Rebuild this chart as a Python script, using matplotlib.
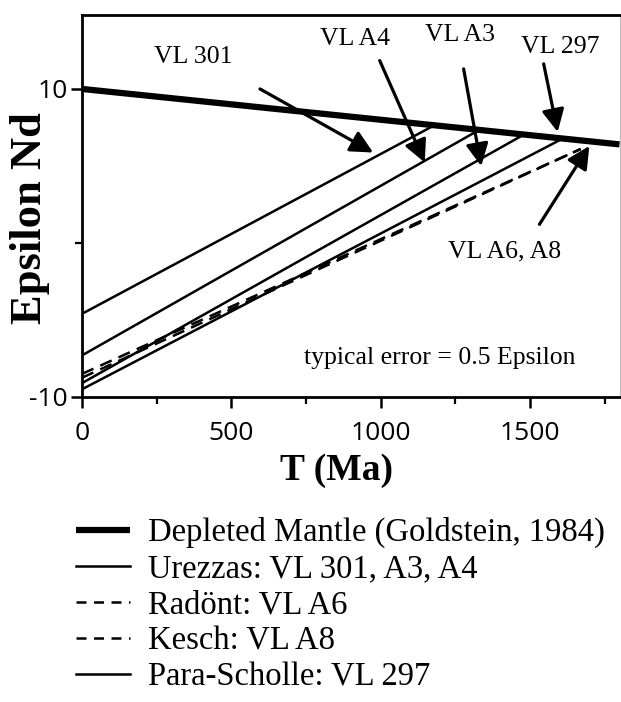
import matplotlib
matplotlib.use("Agg")
import matplotlib.pyplot as plt
from matplotlib.lines import Line2D

# ---------------- data ----------------
# Depleted mantle evolution (Goldstein, 1984)
dm_t = [0, 1800]
dm_eps = [10.0, 6.4]

# Nd evolution lines of samples: start (T=0) and end (model age on DM)
samples = ["VL 301", "VL A4", "VL A3", "VL 297", "VL A6", "VL A8"]
groups = ["Urezzas", "Urezzas", "Urezzas", "Para-Scholle", "Radönt", "Kesch"]
eps_today = [-4.6, -7.3, -9.1, -9.5, -8.5, -8.75]
t_model = [1180, 1330, 1480, 1610, 1670, 1670]
eps_model = [7.64, 7.34, 7.04, 6.78, 6.1, 6.1]
dashed = [False, False, False, False, True, True]

# arrow labels: text position, arrow tail, arrow tip (T in Ma, epsilon)
arrow_labels = ["VL 301", "VL A4", "VL A3", "VL 297", "VL A6, A8"]
label_t = [372, 913, 1265, 1600, 1415]
label_eps = [12.07, 13.26, 13.47, 12.74, -0.53]
tail_t = [596, 997, 1278, 1546, 1532]
tail_eps = [10.0, 11.84, 11.3, 11.63, 1.21]
tip_t = [975, 1148, 1337, 1593, 1699]
tip_eps = [5.87, 5.22, 4.99, 7.21, 6.3]

legend_labels = ["Depleted Mantle (Goldstein, 1984)", "Urezzas: VL 301, A3, A4",
                 "Radönt: VL A6", "Kesch: VL A8", "Para-Scholle: VL 297"]

x_major = [0, 500, 1000, 1500]
x_minor = [250, 750, 1250, 1750]
y_major = [-10, 10]
y_minor = [0]

# ---------------- figure ----------------
W, H = 621, 702
fig = plt.figure(figsize=(W / 100, H / 100), dpi=100)
left, right, top, bottom = 82, 619.5, 15, 397
ax = fig.add_axes([left / W, 1 - bottom / H, (right - left) / W, (bottom - top) / H])

serif = "Liberation Serif"
tickfont = "Open Sans"

ax.plot(dm_t, dm_eps, color="black", lw=4.5, solid_capstyle="butt", zorder=3)
for e0, tm, em, d in zip(eps_today, t_model, eps_model, dashed):
    ax.plot([0, tm], [e0, em], color="black", lw=1.8,
            linestyle=(0, (5, 3)) if d else "-", zorder=2)

for lab, lt, le, at, ae, pt, pe in zip(arrow_labels, label_t, label_eps,
                                       tail_t, tail_eps, tip_t, tip_eps):
    ax.annotate("", xy=(pt, pe), xytext=(at, ae),
                arrowprops=dict(arrowstyle="-|>", color="black", lw=2.3,
                                mutation_scale=34, shrinkA=0, shrinkB=0),
                zorder=4)
    ax.text(lt, le, lab, ha="center", va="center", fontsize=18.5,
            family=serif, zorder=5)

ax.text(1198, -7.5, "typical error = 0.5 Epsilon", ha="center", va="center",
        fontsize=18.5, family=serif)

ax.set_xlim(0, 1800)
ax.set_ylim(-10, 14.8)
ax.set_xticks(x_major)
ax.set_xticks(x_minor, minor=True)
ax.set_yticks(y_major)
ax.set_yticks(y_minor, minor=True)
ax.set_xticklabels([str(v) for v in x_major], family=tickfont, fontsize=19)
ax.set_yticklabels([str(v) for v in y_major], family=tickfont, fontsize=19)
ax.tick_params(axis="x", which="major", direction="out", length=8, width=1.8, pad=9)
ax.tick_params(axis="x", which="minor", direction="out", length=5, width=1.6)
ax.tick_params(axis="y", which="major", direction="out", length=8, width=1.8, pad=2)
ax.tick_params(axis="y", which="minor", direction="out", length=5, width=1.6)

for s in ["left", "bottom", "top"]:
    ax.spines[s].set_linewidth(2.0)
ax.spines["right"].set_linewidth(0.8)
ax.spines["right"].set_color("#bbbbbb")

fig.text(30 / W, 1 - 218 / H, "Epsilon Nd", rotation=90, ha="center", va="center",
         fontsize=32, fontweight="bold", family=serif)
fig.text(337 / W, 1 - 470 / H, "T (Ma)", ha="center", va="center",
         fontsize=27, fontweight="bold", family=serif)

handles = [
    Line2D([], [], color="black", lw=4.5, solid_capstyle="butt"),
    Line2D([], [], color="black", lw=1.8),
    Line2D([], [], color="black", lw=1.8, linestyle=(0, (4, 3))),
    Line2D([], [], color="black", lw=1.8, linestyle=(0, (4, 3))),
    Line2D([], [], color="black", lw=1.8),
]
fig.legend(handles, legend_labels, loc="upper left", bbox_to_anchor=(76 / W, 1 - 517 / H),
           frameon=False, prop={"family": serif, "size": 23.5},
           handlelength=1.66, handletextpad=0.55, labelspacing=0.17,
           borderpad=0, borderaxespad=0)

fig.savefig("out.png", dpi=100)
